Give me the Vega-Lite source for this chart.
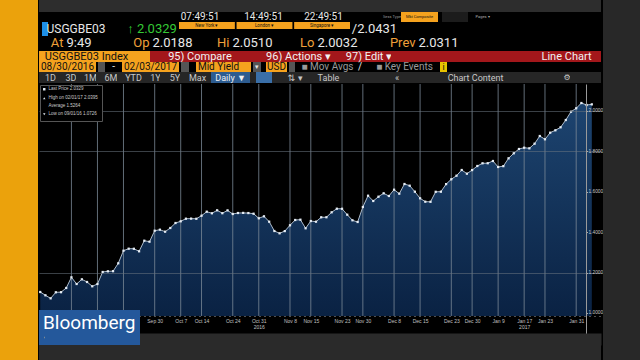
{
"$schema":"https://vega.github.io/schema/vega-lite/v6.json",
"background":"#000000",
"padding":0,
"spacing":0,
"resolve":{"scale":{"shape":"independent","opacity":"independent"},"legend":{"shape":"independent","opacity":"independent"}},
"config":{"view":{"stroke":null},"text":{"font":"Roboto","fontSize":13,"color":"#e6e6e6"}},
"hconcat":[
{"width":38,"height":360,"view":{"fill":"#eba20c"},"data":{"values":[]},"mark":"text","encoding":{}},
{"spacing":0,
 "resolve":{"scale":{"shape":"independent","opacity":"independent"},"legend":{"shape":"independent","opacity":"independent"}},
 "vconcat":[
 {"width":562,"height":12,"view":{"fill":"#2d2d2d"},"data":{"values":[]},"mark":"text","encoding":{}},
 {"spacing":0,"bounds":"flush","hconcat":[
  {"width":142,"height":10,"data":{"values":[]},"mark":"text","encoding":{}},
  {"width":38,"height":10,"data":{"values":[{"t":"07:49:51"}]},"mark":{"type":"text","fontSize":10},"encoding":{"text":{"field":"t"}}},
  {"width":21,"height":10,"data":{"values":[]},"mark":"text","encoding":{}},
  {"width":47,"height":10,"data":{"values":[{"t":"14:49:51"}]},"mark":{"type":"text","fontSize":10},"encoding":{"text":{"field":"t"}}},
  {"width":14,"height":10,"data":{"values":[]},"mark":"text","encoding":{}},
  {"width":45,"height":10,"data":{"values":[{"t":"22:49:51"}]},"mark":{"type":"text","fontSize":10},"encoding":{"text":{"field":"t"}}},
  {"width":37,"height":10,"data":{"values":[]},"mark":"text","encoding":{}},
  {"width":18,"height":10,"data":{"values":[{"t":"Sess Type"}]},"mark":{"type":"text","fontSize":4,"color":"#999999"},"encoding":{"text":{"field":"t"}}},
  {"width":37,"height":10,"view":{"fill":"#f5a21e"},"data":{"values":[{"t":"Mkt Composite"}]},"mark":{"type":"text","fontSize":4,"color":"#111111"},"encoding":{"text":{"field":"t"}}},
  {"width":4,"height":10,"data":{"values":[]},"mark":"text","encoding":{}},
  {"width":26,"height":10,"view":{"fill":"#1c1c1c"},"data":{"values":[]},"mark":"text","encoding":{}},
  {"width":2,"height":10,"data":{"values":[]},"mark":"text","encoding":{}},
  {"width":25,"height":10,"data":{"values":[{"t":"Pages ▾"}]},"mark":{"type":"text","fontSize":4,"color":"#aaaaaa"},"encoding":{"text":{"field":"t"}}},
  {"width":106,"height":10,"data":{"values":[]},"mark":"text","encoding":{}}
 ]},
 {"spacing":0,"bounds":"flush","hconcat":[
  {"width":3,"height":14,"data":{"values":[]},"mark":"text","encoding":{}},
  {"width":6,"height":14,"view":{"fill":"#1e90e8"},"data":{"values":[]},"mark":"text","encoding":{}},
  {"width":56,"height":14,"data":{"values":[{"t":"USGGBE03"}]},"mark":{"type":"text","fontSize":12,"color":"#e8e8e8"},"encoding":{"text":{"field":"t"}}},
  {"width":21,"height":14,"data":{"values":[]},"mark":"text","encoding":{}},
  {"width":54,"height":14,"data":{"values":[{"t":"↑ 2.0329"}]},"mark":{"type":"text","color":"#35c935"},"encoding":{"text":{"field":"t"}}},
  {"width":171,"height":14,
   "data":{"values":[{"f":"New York ▾","r":"field"},{"f":"London ▾","r":"field"},{"f":"Singapore ▾","r":"field"}]},
   "encoding":{"x":{"field":"f","type":"nominal","sort":null,"scale":{"paddingInner":0.03,"paddingOuter":0},"axis":null},
    "y":{"field":"r","type":"nominal","scale":{"domain":["field","below"],"paddingInner":0,"paddingOuter":0},"axis":null}},
   "layer":[{"mark":{"type":"rect","color":"#f5a21e"}},{"mark":{"type":"text","fontSize":4.5,"color":"#111111"},"encoding":{"text":{"field":"f"}}}]},
  {"width":49,"height":14,"data":{"values":[{"t":"/2.0431"}]},"mark":{"type":"text","color":"#e8e8e8"},"encoding":{"text":{"field":"t"}}},
  {"width":202,"height":14,"data":{"values":[]},"mark":"text","encoding":{}}
 ]},
 {"spacing":0,"bounds":"flush","hconcat":[
  {"width":25,"height":13,"data":{"values":[]},"mark":"text","encoding":{}},
  {"width":2,"height":13,"data":{"values":[{"a":"At","b":"9:49"}]},"layer":[{"mark":{"type":"text","align":"right","dx":-1.5,"color":"#f0a03a"},"encoding":{"text":{"field":"a"}}},{"mark":{"type":"text","align":"left","dx":1.5,"color":"#e8e8e8"},"encoding":{"text":{"field":"b"}}}]},
  {"width":84,"height":13,"data":{"values":[]},"mark":"text","encoding":{}},
  {"width":2,"height":13,"data":{"values":[{"a":"Op","b":"2.0188"}]},"layer":[{"mark":{"type":"text","align":"right","dx":-1.5,"color":"#f0a03a"},"encoding":{"text":{"field":"a"}}},{"mark":{"type":"text","align":"left","dx":1.5,"color":"#e8e8e8"},"encoding":{"text":{"field":"b"}}}]},
  {"width":78,"height":13,"data":{"values":[]},"mark":"text","encoding":{}},
  {"width":2,"height":13,"data":{"values":[{"a":"Hi","b":"2.0510"}]},"layer":[{"mark":{"type":"text","align":"right","dx":-1.5,"color":"#f0a03a"},"encoding":{"text":{"field":"a"}}},{"mark":{"type":"text","align":"left","dx":1.5,"color":"#e8e8e8"},"encoding":{"text":{"field":"b"}}}]},
  {"width":83,"height":13,"data":{"values":[]},"mark":"text","encoding":{}},
  {"width":2,"height":13,"data":{"values":[{"a":"Lo","b":"2.0032"}]},"layer":[{"mark":{"type":"text","align":"right","dx":-1.5,"color":"#f0a03a"},"encoding":{"text":{"field":"a"}}},{"mark":{"type":"text","align":"left","dx":1.5,"color":"#e8e8e8"},"encoding":{"text":{"field":"b"}}}]},
  {"width":99,"height":13,"data":{"values":[]},"mark":"text","encoding":{}},
  {"width":2,"height":13,"data":{"values":[{"a":"Prev","b":"2.0311"}]},"layer":[{"mark":{"type":"text","align":"right","dx":-1.5,"color":"#f0a03a"},"encoding":{"text":{"field":"a"}}},{"mark":{"type":"text","align":"left","dx":1.5,"color":"#e8e8e8"},"encoding":{"text":{"field":"b"}}}]},
  {"width":183,"height":13,"data":{"values":[]},"mark":"text","encoding":{}}
 ]},
 {"spacing":0,"bounds":"flush","hconcat":[
  {"width":95,"height":11,"view":{"fill":"#f5a21e"},"data":{"values":[{"t":"USGGBE03 Index"}]},"mark":{"type":"text","fontSize":11,"color":"#111111"},"encoding":{"text":{"field":"t"}}},
  {"width":16,"height":11,"view":{"fill":"#f5a21e"},"data":{"values":[]},"mark":"text","encoding":{}},
  {"width":18,"height":11,"view":{"fill":"#a3171b"},"data":{"values":[]},"mark":"text","encoding":{}},
  {"width":64,"height":11,"view":{"fill":"#a3171b"},"data":{"values":[{"t":"95) Compare"}]},"mark":{"type":"text","fontSize":11,"color":"#f2f2f2"},"encoding":{"text":{"field":"t"}}},
  {"width":33,"height":11,"view":{"fill":"#a3171b"},"data":{"values":[]},"mark":"text","encoding":{}},
  {"width":67,"height":11,"view":{"fill":"#a3171b"},"data":{"values":[{"t":"96) Actions  ▾"}]},"mark":{"type":"text","fontSize":11,"color":"#f2f2f2"},"encoding":{"text":{"field":"t"}}},
  {"width":15,"height":11,"view":{"fill":"#a3171b"},"data":{"values":[]},"mark":"text","encoding":{}},
  {"width":44,"height":11,"view":{"fill":"#a3171b"},"data":{"values":[{"t":"97) Edit ▾"}]},"mark":{"type":"text","fontSize":11,"color":"#f2f2f2"},"encoding":{"text":{"field":"t"}}},
  {"width":148,"height":11,"view":{"fill":"#a3171b"},"data":{"values":[]},"mark":"text","encoding":{}},
  {"width":55,"height":11,"view":{"fill":"#a3171b"},"data":{"values":[{"t":"Line Chart"}]},"mark":{"type":"text","fontSize":11,"color":"#f2f2f2"},"encoding":{"text":{"field":"t"}}},
  {"width":7,"height":11,"view":{"fill":"#a3171b"},"data":{"values":[]},"mark":"text","encoding":{}}
 ]},
 {"spacing":0,"bounds":"flush","hconcat":[
  {"width":57,"height":10,"view":{"fill":"#f5a21e"},"data":{"values":[{"t":"08/30/2016"}]},"mark":{"type":"text","fontSize":10,"color":"#111111"},"encoding":{"text":{"field":"t"}}},
  {"width":2,"height":10,"data":{"values":[]},"mark":"text","encoding":{}},
  {"width":7,"height":10,"view":{"fill":"#555555"},"data":{"values":[]},"mark":"text","encoding":{}},
  {"width":17,"height":10,"data":{"values":[{"t":"-"}]},"mark":{"type":"text","fontSize":10},"encoding":{"text":{"field":"t"}}},
  {"width":57,"height":10,"view":{"fill":"#f5a21e"},"data":{"values":[{"t":"02/03/2017"}]},"mark":{"type":"text","fontSize":10,"color":"#111111"},"encoding":{"text":{"field":"t"}}},
  {"width":2,"height":10,"data":{"values":[]},"mark":"text","encoding":{}},
  {"width":8,"height":10,"view":{"fill":"#555555"},"data":{"values":[]},"mark":"text","encoding":{}},
  {"width":7,"height":10,"data":{"values":[]},"mark":"text","encoding":{}},
  {"width":45,"height":10,"view":{"fill":"#f5a21e"},"data":{"values":[{"t":"Mid Yield"}]},"mark":{"type":"text","fontSize":10,"color":"#111111"},"encoding":{"text":{"field":"t"}}},
  {"width":10,"height":10,"view":{"fill":"#f5a21e"},"data":{"values":[]},"mark":"text","encoding":{}},
  {"width":2,"height":10,"data":{"values":[]},"mark":"text","encoding":{}},
  {"width":8,"height":10,"view":{"fill":"#555555"},"data":{"values":[{"t":"▾"}]},"mark":{"type":"text","fontSize":7},"encoding":{"text":{"field":"t"}}},
  {"width":5,"height":10,"data":{"values":[]},"mark":"text","encoding":{}},
  {"width":21,"height":10,"view":{"fill":"#f5a21e"},"data":{"values":[{"t":"USD"}]},"mark":{"type":"text","fontSize":10,"color":"#111111"},"encoding":{"text":{"field":"t"}}},
  {"width":2,"height":10,"data":{"values":[]},"mark":"text","encoding":{}},
  {"width":6,"height":10,"view":{"fill":"#555555"},"data":{"values":[]},"mark":"text","encoding":{}},
  {"width":8,"height":10,"data":{"values":[]},"mark":"text","encoding":{}},
  {"width":49,"height":10,"data":{"values":[{"t":"■ Mov Avgs"}]},"mark":{"type":"text","fontSize":10,"color":"#9a9a9a"},"encoding":{"text":{"field":"t"}}},
  {"width":3,"height":10,"data":{"values":[]},"mark":"text","encoding":{}},
  {"width":10,"height":10,"data":{"values":[{"t":"/"}]},"mark":{"type":"text","fontSize":10},"encoding":{"text":{"field":"t"}}},
  {"width":11,"height":10,"data":{"values":[]},"mark":"text","encoding":{}},
  {"width":57,"height":10,"data":{"values":[{"t":"■ Key Events"}]},"mark":{"type":"text","fontSize":10,"color":"#9a9a9a"},"encoding":{"text":{"field":"t"}}},
  {"width":7,"height":10,"data":{"values":[]},"mark":"text","encoding":{}},
  {"width":7,"height":10,"view":{"fill":"#e8c300"},"data":{"values":[{"t":"i"}]},"mark":{"type":"text","fontSize":9,"color":"#111111"},"encoding":{"text":{"field":"t"}}},
  {"width":154,"height":10,"data":{"values":[]},"mark":"text","encoding":{}}
 ]},
 {"spacing":0,"bounds":"flush","hconcat":[
  {"width":6,"height":11,"view":{"fill":"#262626"},"data":{"values":[]},"mark":"text","encoding":{}},
  {"width":11,"height":11,"view":{"fill":"#262626"},"data":{"values":[{"t":"1D"}]},"mark":{"type":"text","fontSize":9,"color":"#c8c8c8"},"encoding":{"text":{"field":"t"}}},
  {"width":10,"height":11,"view":{"fill":"#262626"},"data":{"values":[]},"mark":"text","encoding":{}},
  {"width":10,"height":11,"view":{"fill":"#262626"},"data":{"values":[{"t":"3D"}]},"mark":{"type":"text","fontSize":9,"color":"#c8c8c8"},"encoding":{"text":{"field":"t"}}},
  {"width":9,"height":11,"view":{"fill":"#262626"},"data":{"values":[]},"mark":"text","encoding":{}},
  {"width":11,"height":11,"view":{"fill":"#262626"},"data":{"values":[{"t":"1M"}]},"mark":{"type":"text","fontSize":9,"color":"#c8c8c8"},"encoding":{"text":{"field":"t"}}},
  {"width":9,"height":11,"view":{"fill":"#262626"},"data":{"values":[]},"mark":"text","encoding":{}},
  {"width":12,"height":11,"view":{"fill":"#262626"},"data":{"values":[{"t":"6M"}]},"mark":{"type":"text","fontSize":9,"color":"#c8c8c8"},"encoding":{"text":{"field":"t"}}},
  {"width":8,"height":11,"view":{"fill":"#262626"},"data":{"values":[]},"mark":"text","encoding":{}},
  {"width":17,"height":11,"view":{"fill":"#262626"},"data":{"values":[{"t":"YTD"}]},"mark":{"type":"text","fontSize":9,"color":"#c8c8c8"},"encoding":{"text":{"field":"t"}}},
  {"width":9,"height":11,"view":{"fill":"#262626"},"data":{"values":[]},"mark":"text","encoding":{}},
  {"width":9,"height":11,"view":{"fill":"#262626"},"data":{"values":[{"t":"1Y"}]},"mark":{"type":"text","fontSize":9,"color":"#c8c8c8"},"encoding":{"text":{"field":"t"}}},
  {"width":10,"height":11,"view":{"fill":"#262626"},"data":{"values":[]},"mark":"text","encoding":{}},
  {"width":10,"height":11,"view":{"fill":"#262626"},"data":{"values":[{"t":"5Y"}]},"mark":{"type":"text","fontSize":9,"color":"#c8c8c8"},"encoding":{"text":{"field":"t"}}},
  {"width":8,"height":11,"view":{"fill":"#262626"},"data":{"values":[]},"mark":"text","encoding":{}},
  {"width":19,"height":11,"view":{"fill":"#262626"},"data":{"values":[{"t":"Max"}]},"mark":{"type":"text","fontSize":9,"color":"#c8c8c8"},"encoding":{"text":{"field":"t"}}},
  {"width":4,"height":11,"view":{"fill":"#262626"},"data":{"values":[]},"mark":"text","encoding":{}},
  {"width":39,"height":11,"view":{"fill":"#2d5c90"},"data":{"values":[{"t":"Daily ▼"}]},"mark":{"type":"text","fontSize":9,"color":"#f0f0f0"},"encoding":{"text":{"field":"t"}}},
  {"width":6,"height":11,"view":{"fill":"#262626"},"data":{"values":[]},"mark":"text","encoding":{}},
  {"width":16,"height":11,"view":{"fill":"#3a6fa8"},"data":{"values":[]},"mark":"text","encoding":{}},
  {"width":11,"height":11,"view":{"fill":"#262626"},"data":{"values":[]},"mark":"text","encoding":{}},
  {"width":24,"height":11,"view":{"fill":"#262626"},"data":{"values":[{"t":"⇅  ▾"}]},"mark":{"type":"text","fontSize":9,"color":"#c8c8c8","font":"DejaVu Sans"},"encoding":{"text":{"field":"t"}}},
  {"width":10,"height":11,"view":{"fill":"#262626"},"data":{"values":[]},"mark":"text","encoding":{}},
  {"width":23,"height":11,"view":{"fill":"#262626"},"data":{"values":[{"t":"Table"}]},"mark":{"type":"text","fontSize":9,"color":"#c8c8c8"},"encoding":{"text":{"field":"t"}}},
  {"width":53,"height":11,"view":{"fill":"#262626"},"data":{"values":[]},"mark":"text","encoding":{}},
  {"width":8,"height":11,"view":{"fill":"#262626"},"data":{"values":[{"t":"«"}]},"mark":{"type":"text","fontSize":9,"color":"#c8c8c8"},"encoding":{"text":{"field":"t"}}},
  {"width":43,"height":11,"view":{"fill":"#262626"},"data":{"values":[]},"mark":"text","encoding":{}},
  {"width":63,"height":11,"view":{"fill":"#262626"},"data":{"values":[{"t":"Chart Content"}]},"mark":{"type":"text","fontSize":9,"color":"#c8c8c8"},"encoding":{"text":{"field":"t"}}},
  {"width":57,"height":11,"view":{"fill":"#262626"},"data":{"values":[]},"mark":"text","encoding":{}},
  {"width":6,"height":11,"view":{"fill":"#262626"},"data":{"values":[{"t":"⚙"}]},"mark":{"type":"text","fontSize":8,"color":"#c8c8c8","font":"DejaVu Sans"},"encoding":{"text":{"field":"t"}}},
  {"width":31,"height":11,"view":{"fill":"#262626"},"data":{"values":[]},"mark":"text","encoding":{}}
 ]},
 {"width":562,"height":261,"view":{"fill":"#000000"},
  "data":{"values":[
{"date":"2016-08-30","v":1.1040},{"date":"2016-08-31","v":1.0876},{"date":"2016-09-01","v":1.0726},{"date":"2016-09-02","v":1.1025},{"date":"2016-09-06","v":1.1030},{"date":"2016-09-07","v":1.1238},{"date":"2016-09-08","v":1.1767},{"date":"2016-09-09","v":1.1436},{"date":"2016-09-12","v":1.1668},{"date":"2016-09-13","v":1.1535},
{"date":"2016-09-14","v":1.1322},{"date":"2016-09-15","v":1.1436},{"date":"2016-09-16","v":1.2030},{"date":"2016-09-19","v":1.2064},{"date":"2016-09-20","v":1.2070},{"date":"2016-09-21","v":1.2460},{"date":"2016-09-22","v":1.3084},{"date":"2016-09-23","v":1.3183},{"date":"2016-09-26","v":1.3180},{"date":"2016-09-27","v":1.3054},
{"date":"2016-09-28","v":1.3579},{"date":"2016-09-29","v":1.3530},{"date":"2016-09-30","v":1.4074},{"date":"2016-10-03","v":1.4124},{"date":"2016-10-04","v":1.4025},{"date":"2016-10-05","v":1.4208},{"date":"2016-10-06","v":1.4455},{"date":"2016-10-07","v":1.4540},{"date":"2016-10-11","v":1.4668},{"date":"2016-10-12","v":1.4672},
{"date":"2016-10-13","v":1.4665},{"date":"2016-10-14","v":1.4817},{"date":"2016-10-17","v":1.5015},{"date":"2016-10-18","v":1.4936},{"date":"2016-10-19","v":1.5084},{"date":"2016-10-20","v":1.4940},{"date":"2016-10-21","v":1.5080},{"date":"2016-10-24","v":1.4901},{"date":"2016-10-25","v":1.4950},{"date":"2016-10-26","v":1.4955},
{"date":"2016-10-27","v":1.4948},{"date":"2016-10-28","v":1.4916},{"date":"2016-10-31","v":1.4688},{"date":"2016-11-01","v":1.4787},{"date":"2016-11-02","v":1.4520},{"date":"2016-11-03","v":1.4059},{"date":"2016-11-04","v":1.3946},{"date":"2016-11-07","v":1.4055},{"date":"2016-11-08","v":1.4342},{"date":"2016-11-09","v":1.4604},
{"date":"2016-11-10","v":1.4619},{"date":"2016-11-14","v":1.4193},{"date":"2016-11-15","v":1.4554},{"date":"2016-11-16","v":1.4520},{"date":"2016-11-17","v":1.4738},{"date":"2016-11-18","v":1.4740},{"date":"2016-11-21","v":1.4985},{"date":"2016-11-22","v":1.5163},{"date":"2016-11-23","v":1.5160},{"date":"2016-11-25","v":1.4866},
{"date":"2016-11-28","v":1.4589},{"date":"2016-11-29","v":1.4505},{"date":"2016-11-30","v":1.5248},{"date":"2016-12-01","v":1.5807},{"date":"2016-12-02","v":1.5545},{"date":"2016-12-05","v":1.5757},{"date":"2016-12-06","v":1.5926},{"date":"2016-12-07","v":1.5792},{"date":"2016-12-08","v":1.6104},{"date":"2016-12-09","v":1.5906},
{"date":"2016-12-12","v":1.6386},{"date":"2016-12-13","v":1.6302},{"date":"2016-12-14","v":1.6005},{"date":"2016-12-15","v":1.5678},{"date":"2016-12-16","v":1.5510},{"date":"2016-12-19","v":1.5505},{"date":"2016-12-20","v":1.6000},{"date":"2016-12-21","v":1.6005},{"date":"2016-12-22","v":1.6380},{"date":"2016-12-23","v":1.6619},
{"date":"2016-12-27","v":1.6797},{"date":"2016-12-28","v":1.7079},{"date":"2016-12-29","v":1.6896},{"date":"2016-12-30","v":1.7075},{"date":"2017-01-03","v":1.7277},{"date":"2017-01-04","v":1.7411},{"date":"2017-01-05","v":1.7415},{"date":"2017-01-06","v":1.7525},{"date":"2017-01-09","v":1.7228},{"date":"2017-01-10","v":1.7270},
{"date":"2017-01-11","v":1.7658},{"date":"2017-01-12","v":1.7906},{"date":"2017-01-13","v":1.8119},{"date":"2017-01-17","v":1.8183},{"date":"2017-01-18","v":1.8153},{"date":"2017-01-19","v":1.8381},{"date":"2017-01-20","v":1.8762},{"date":"2017-01-23","v":1.8599},{"date":"2017-01-24","v":1.8926},{"date":"2017-01-25","v":1.9045},
{"date":"2017-01-26","v":1.9193},{"date":"2017-01-27","v":1.9554},{"date":"2017-01-30","v":1.9965},{"date":"2017-01-31","v":2.0134},{"date":"2017-02-01","v":2.0395},{"date":"2017-02-02","v":2.0297},{"date":"2017-02-03","v":2.0329}
  ]},
  "resolve":{"axis":{"x":"independent"}},
  "layer":[
   {"mark":{"type":"area","fill":{"x1":0,"y1":0,"x2":0,"y2":1,"gradient":"linear","stops":[{"offset":0,"color":"#1d4470"},{"offset":1,"color":"#0a2243"}]}},
    "encoding":{
     "x":{"field":"date","type":"ordinal","sort":null,"scale":{"type":"point","padding":2.54,"align":0.1167},
      "axis":{"orient":"bottom","offset":-29,"values":["2016-09-30","2016-10-07","2016-10-14","2016-10-24","2016-10-31","2016-11-08","2016-11-15","2016-11-23","2016-11-30","2016-12-08","2016-12-15","2016-12-23","2016-12-30","2017-01-09","2017-01-17","2017-01-23","2017-01-31"],
       "labelExpr":"datum.value == '2016-10-31' ? [utcFormat(toDate(datum.value), '%b %-d'), '2016'] : (datum.value == '2017-01-17' ? [utcFormat(toDate(datum.value), '%b %-d'), '2017'] : utcFormat(toDate(datum.value), '%b %-d'))",
       "labelFont":"Liberation Sans","labelFontSize":5,"labelColor":"#c0c0c0","labelPadding":2,"labelAngle":0,"labelOverlap":false,"labelLineHeight":6,
       "ticks":false,"domainColor":"#a0a0a0","domainDash":[1,4],"grid":false,"title":null}},
     "y":{"field":"v","type":"quantitative","scale":{"domain":[0.84158,2.13366],"nice":false,"zero":false},
      "axis":{"orient":"right","offset":-15,"zindex":1,"values":[1,1.2,1.4,1.6,1.8,2],"format":".4f","labelFont":"Liberation Sans","labelFontSize":4.8,"labelColor":"#c8c8c8","labelPadding":0.5,"tickSize":1.5,"tickColor":"#aaaaaa","domainColor":"#9a9a9a",
       "grid":true,"gridColor":"#6a7480","gridOpacity":{"condition":{"test":"datum.value < 1.1 || (datum.value > 1.3 && datum.value < 1.7)","value":0},"value":0.55},"title":null}},
     "y2":{"datum":0.98515}}},
   {"transform":[{"filter":{"field":"date","oneOf":["2016-09-08","2016-09-15","2016-09-22","2016-09-30","2016-10-07","2016-10-14","2016-10-24","2016-10-31","2016-11-08","2016-11-15","2016-11-23","2016-11-30","2016-12-08","2016-12-15","2016-12-23","2016-12-30","2017-01-09","2017-01-17","2017-01-23","2017-01-31"]}}],
    "mark":{"type":"rule","color":"#7a8896","strokeWidth":0.8},
    "encoding":{"x":{"field":"date","type":"ordinal","sort":null,"axis":null},"y":{"datum":0.98515},"y2":{"datum":2.13366},
     "opacity":{"datum":"brand","scale":{"domain":["brand"],"range":[0.3]},
      "legend":{"orient":"bottom-left","offset":0,"zindex":3,"padding":4,"fillColor":"#24589b","strokeColor":null,"title":"Bloomberg","titleFont":"Roboto","titleFontSize":19,"titleFontWeight":"normal","titleColor":"#ffffff","titlePadding":3,"labelFontSize":1,"labelOpacity":0,"symbolOpacity":0,"symbolSize":1,"labelExpr":"''"}}}},
   {"mark":{"type":"line","color":"#aebccb","strokeWidth":1},
    "encoding":{"x":{"field":"date","type":"ordinal","sort":null,
      "axis":{"orient":"bottom","offset":-6,"zindex":2,"domain":true,"domainWidth":12,"domainColor":"#2a2a2a","labels":false,"ticks":false,"grid":false,"title":null}},
     "y":{"field":"v","type":"quantitative"}}},
   {"mark":{"type":"point","filled":true,"size":5,"opacity":1,"color":"#e6edf5"},
    "encoding":{"x":{"field":"date","type":"ordinal","sort":null,"axis":null},"y":{"field":"v","type":"quantitative"},
     "shape":{"datum":"Last Price  2.0329","scale":{"domain":["Last Price  2.0329","High on 02/01/17  2.0395","Average  1.5264","Low on 09/01/16  1.0726"],"range":["square","triangle-up","stroke","triangle-down"]},
      "legend":{"orient":"top-left","offset":1,"zindex":3,"padding":2,"fillColor":"#000000","strokeColor":"#555555","title":null,"labelFont":"Liberation Sans","labelFontSize":4.5,"labelColor":"#cccccc","symbolSize":6,"symbolFillColor":"#dddddd","symbolStrokeColor":"#dddddd","rowPadding":0,"labelOffset":2}}}}
  ]
 },
 {"width":562,"height":18,"view":{"fill":"#2a2a2a"},"data":{"values":[]},"mark":"text","encoding":{}}
]},
{"width":40,"height":360,"view":{"fill":"#282828"},"data":{"values":[]},"mark":"text","encoding":{}}
]
}
